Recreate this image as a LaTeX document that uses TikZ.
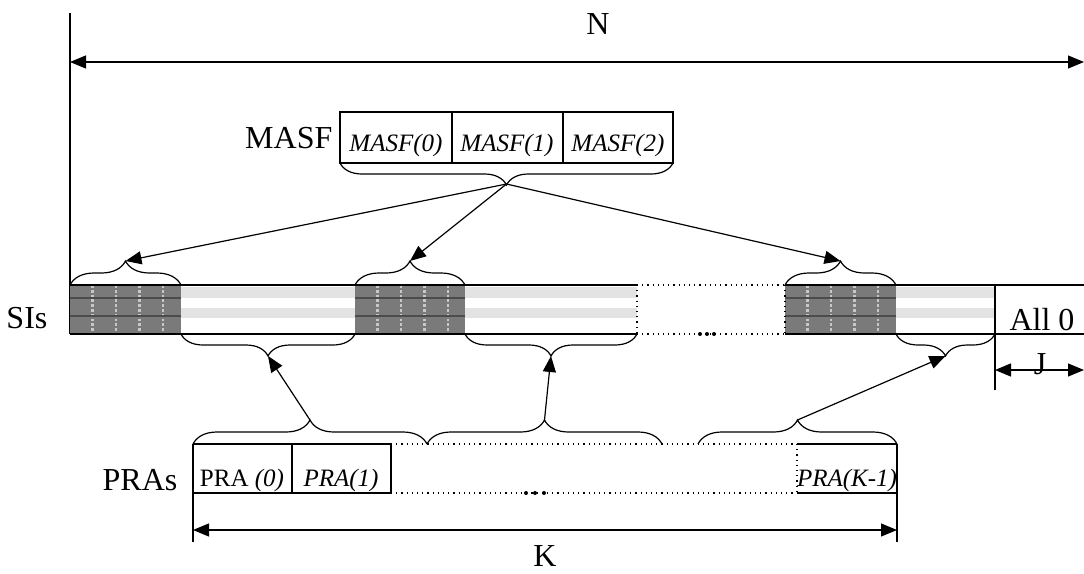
\documentclass[tikz,border=0pt]{standalone}
\usepackage{fontspec}
\setmainfont{Liberation Serif}
\usetikzlibrary{positioning}
\usetikzlibrary{arrows.meta}
\usetikzlibrary{decorations.pathreplacing}

\tikzset{
  lbl/.style={font=\fontsize{16}{18}\selectfont, inner sep=0pt},
  cell/.style={font=\fontsize{12.5}{14}\selectfont\itshape, inner sep=0pt},
  bracetop/.style={decorate, decoration={brace, amplitude=12pt}},
  bracebot/.style={decorate, decoration={brace, amplitude=11pt, mirror}},
  dim/.style={{Triangle[length=8pt,width=6.5pt]}-{Triangle[length=8pt,width=6.5pt]}},
  pointer/.style={-{Triangle[length=8pt,width=6.5pt]}},
  darkcell/.style={fill=black!52},
  lightband/.style={fill=black!11},
}

\begin{document}
\begin{tikzpicture}[x=0.5pt, y=-0.5pt, line width=0.6pt]
\useasboundingbox (0,0) rectangle (1084,574);
%% total width N
\draw (70,13) -- (70,334);
\coordinate (nl) at (70,62);
\coordinate (nr) at (1084,62);
\draw[dim] (nl) -- (nr);
\node[lbl] (ntxt) at (598,24) {N};
%% the MASF fields
\draw (340,112) rectangle (673,163);
\draw (452,112) -- (452,163) (563,112) -- (563,163);
\node[cell] (m0) at (396,145) {MASF(0)};
\node[cell] (m1) at (507,145) {MASF(1)};
\node[cell] (m2) at (618,145) {MASF(2)};
\node[lbl, anchor=east] (masf) at (333,138) {MASF};
\draw[bracebot] (340,163) -- (673,163);
\coordinate (mtip) at (506.5,184);
%% the SI row
\foreach \a/\b in {70/181,355/465,785/896} {
  \fill[darkcell] (\a,285) rectangle (\b,334);
  \foreach \k in {1,...,4}
    \draw[black!22, densely dotted, line width=1.4pt] (\a+\k*23.5-1,285) -- (\a+\k*23.5-1,334);
  \draw[black!70] (\a,298) -- (\b,298) (\a,316) -- (\b,316);
}
\foreach \a/\b in {181/355,465/637,896/995} {
  \fill[lightband] (\a,287) rectangle (\b,298);
  \fill[lightband] (\a,308) rectangle (\b,318);
}
\draw (70,285) -- (637,285) (785,285) -- (1084,285);
\draw (70,334) -- (637,334) (785,334) -- (1084,334);
\draw[dotted] (637,285) -- (785,285) (637,334) -- (785,334);
\draw[dotted] (637,285) -- (637,334) (785,285) -- (785,334);
\foreach \x in {700,707,714} \fill (\x,334) circle (1pt);
\draw (995,285) -- (995,390);
\node[lbl, anchor=east] (sis) at (48,318) {SIs};
\node[lbl] (all0) at (1042,320) {All 0};
%% braces over the MASF copies
\draw[bracetop] (70,285) -- (181,285);
\draw[bracetop] (355,285) -- (465,285);
\draw[bracetop] (785,285) -- (896,285);
\coordinate (s1) at (125.5,261);
\coordinate (s2) at (410,261);
\coordinate (s3) at (840.5,261);
\draw[pointer] (mtip) -- (s1);
\draw[pointer] (mtip) -- (s2);
\draw[pointer] (mtip) -- (s3);
%% braces under the PRA parts
\draw[bracebot] (181,334) -- (355,334);
\draw[bracebot] (465,334) -- (637,334);
\draw[bracebot] (896,334) -- (995,334);
\coordinate (l1) at (268,356);
\coordinate (l2) at (551,356);
\coordinate (l3) at (945.5,356);
%% J
\coordinate (jl) at (995,370);
\coordinate (jr) at (1084,370);
\draw[dim] (jl) -- (jr);
\node[lbl] (jtxt) at (1040,364) {J};
%% the PRA row
\draw (193,444) -- (391,444) (193,493) -- (391,493);
\draw (292,444) -- (292,493) (391,444) -- (391,493);
\draw[dotted] (391,444) -- (797,444) (391,493) -- (797,493) (797,444) -- (797,493);
\draw (797,444) -- (897,444) (797,493) -- (897,493);
\draw (193,444) -- (193,542) (897,444) -- (897,542);
\foreach \x in {526,535,544} \fill (\x,493) circle (1pt);
\node[cell] (p0) at (242,480) {\upshape PRA \itshape(0)};
\node[cell] (p1) at (341,480) {PRA(1)};
\node[cell] (pk) at (847,480) {PRA(K-1)};
\node[lbl, anchor=east] (pras) at (178,480) {PRAs};
\draw[bracetop] (193,444) -- (427,444);
\draw[bracetop] (427,444) -- (662,444);
\draw[bracetop] (698,444) -- (897,444);
\coordinate (r1) at (310,420);
\coordinate (r2) at (544.5,420);
\coordinate (r3) at (797.5,420);
\draw[pointer] (r1) -- (l1);
\draw[pointer] (r2) -- (l2);
\draw[pointer] (r3) -- (l3);
%% total width K
\coordinate (kl) at (193,530);
\coordinate (kr) at (897,530);
\draw[dim] (kl) -- (kr);
\node[lbl] (ktxt) at (545,556) {K};
\end{tikzpicture}
\end{document}
